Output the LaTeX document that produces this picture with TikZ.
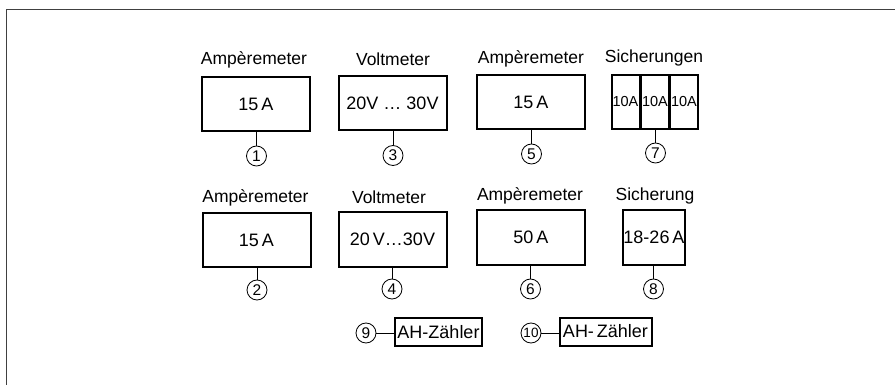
\documentclass[tikz,border=0pt]{standalone}
\usepackage{fontspec}
\setmainfont{Liberation Sans}
\usetikzlibrary{positioning}
\tikzset{meterBox/.style={draw, line width=2pt, minimum width=108pt, minimum height=54pt, inner sep=0pt, font=\fontsize{18}{20}\selectfont}}
\tikzset{fuseBox/.style={draw, line width=2pt, minimum width=28pt, minimum height=54pt, inner sep=0pt, font=\fontsize{14.5}{16}\selectfont}}
\tikzset{counterBox/.style={draw, line width=2pt, minimum height=28pt, inner sep=0pt, font=\fontsize{18}{20}\selectfont}}
\tikzset{numCircle/.style={draw, circle, line width=0.8pt, minimum size=20pt, inner sep=0pt, font=\fontsize{15.5}{16}\selectfont}}
\tikzset{caption/.style={font=\fontsize{17.5}{20}\selectfont}}

\begin{document}
\begin{tikzpicture}[x=1pt, y=-1pt]

\useasboundingbox (0,0) rectangle (895,385);
\draw[gray!50!black, line width=1pt] (895,10) -- (6,10) -- (6,385);

% upper row
\node[caption] (t1) at (254, 60) {Ampèremeter};
\node[caption] (t3) at (393, 59) {Voltmeter};
\node[caption] (t5) at (531, 59) {Ampèremeter};
\node[caption] (t7) at (654, 58) {Sicherungen};

\node[meterBox] (b1) at (256, 104) {15\,A};
\node[meterBox] (b3) at (392.5, 103) {20V\ \ldots\ 30V};
\node[meterBox] (b5) at (531, 102) {15\,A};
\node[fuseBox] (f1) at (625.5, 102) {10A};
\node[fuseBox] (f2) at (655, 102) {10A};
\node[fuseBox] (f3) at (684, 102) {10A};

\node[numCircle] (c1) at (256.5, 156) {1};
\node[numCircle] (c3) at (393, 155.5) {3};
\node[numCircle] (c5) at (531.5, 154) {5};
\node[numCircle] (c7) at (655.5, 153) {7};

\draw (c1) to (c1 |- b1.south);
\draw (c3) to (c3 |- b3.south);
\draw (c5) to (c5 |- b5.south);
\draw (c7) to (c7 |- f2.south);

% lower row
\node[caption] (t2) at (255.5, 198) {Ampèremeter};
\node[caption] (t4) at (389, 197) {Voltmeter};
\node[caption] (t6) at (530, 196) {Ampèremeter};
\node[caption] (t8) at (655, 196) {Sicherung};

\node[meterBox] (b2) at (256.5, 240) {15\,A};
\node[meterBox] (b4) at (392.5, 239.5) {20\,V\ldots30V};
\node[meterBox] (b6) at (531, 237.5) {50\,A};
\node[meterBox, minimum width=59pt] (b8) at (654, 237.5) {18-26\,A};

\node[numCircle] (c2) at (257, 290) {2};
\node[numCircle] (c4) at (392, 289) {4};
\node[numCircle] (c6) at (530.5, 289) {6};
\node[numCircle] (c8) at (653.5, 289) {8};

\draw (c2) to (c2 |- b2.south);
\draw (c4) to (c4 |- b4.south);
\draw (c6) to (c6 |- b6.south);
\draw (c8) to (c8 |- b8.south);

% counters
\node[numCircle] (c9) at (366, 333) {9};
\node[counterBox, minimum width=87pt] (z9) at (438.5, 332) {AH-Zähler};
\node[numCircle, font=\fontsize{13.5}{14}\selectfont] (c10) at (531, 333) {10};
\node[counterBox, minimum width=92pt] (z10) at (605.5, 331.5) {AH-\,Zähler};

\draw (c9) to (c9 -| z9.west);
\draw (c10) to (c10 -| z10.west);

\end{tikzpicture}
\end{document}
